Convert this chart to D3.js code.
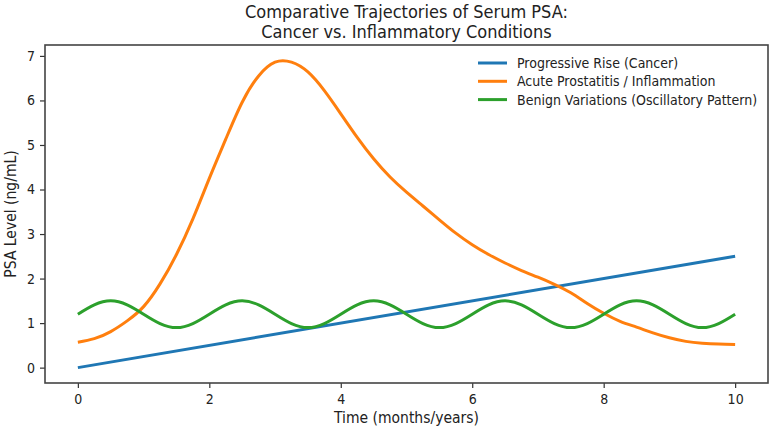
<!DOCTYPE html>
<html>
<head>
<meta charset="utf-8">
<script src="https://cdn.jsdelivr.net/npm/d3@7"></script>
<style>
  body { margin: 0; background: #fff; }
  text { font-family: "DejaVu Sans Condensed", "DejaVu Sans", sans-serif; fill: #222; }
</style>
</head>
<body>
<div id="chart"></div>
<script>
const W = 774, H = 431;
const MARGIN = { TOP: 45, RIGHT: 6, BOTTOM: 48, LEFT: 45 };
const WIDTH = W - MARGIN.LEFT - MARGIN.RIGHT;
const HEIGHT = H - MARGIN.TOP - MARGIN.BOTTOM;

const xTicks = [0, 2, 4, 6, 8, 10];
const yTicks = [0, 1, 2, 3, 4, 5, 6, 7];

const cancerX = [0, 10];
const cancerY = [0, 2.5];

const inflamX = [0, 0.25, 0.5, 0.75, 1, 1.25, 1.5, 1.75, 2, 2.25, 2.5, 2.75, 3, 3.25, 3.5, 3.75, 4,
  4.25, 4.5, 4.75, 5, 5.25, 5.5, 5.75, 6, 6.25, 6.5, 6.75, 7, 7.25, 7.5, 7.75, 8, 8.25, 8.5, 8.75, 9,
  9.25, 9.5, 9.75, 10];
const inflamY = [0.57, 0.65, 0.81, 1.05, 1.37, 1.88, 2.54, 3.34, 4.25, 5.13, 5.96, 6.55, 6.86, 6.86,
  6.64, 6.22, 5.7, 5.17, 4.69, 4.28, 3.94, 3.63, 3.32, 3.02, 2.76, 2.54, 2.35, 2.18, 2.03, 1.87, 1.68,
  1.44, 1.22, 1.04, 0.91, 0.78, 0.67, 0.59, 0.55, 0.53, 0.52];

const benignX = d3.range(0, 10.001, 0.25);
const benignY = [1.2, 1.41, 1.5, 1.41, 1.2, 0.99, 0.9, 0.99, 1.2, 1.41, 1.5, 1.41, 1.2, 0.99, 0.9, 0.99,
  1.2, 1.41, 1.5, 1.41, 1.2, 0.99, 0.9, 0.99, 1.2, 1.41, 1.5, 1.41, 1.2, 0.99, 0.9, 0.99,
  1.2, 1.41, 1.5, 1.41, 1.2, 0.99, 0.9, 0.99, 1.2];

const seriesNames = ["Progressive Rise (Cancer)", "Acute Prostatitis / Inflammation", "Benign Variations (Oscillatory Pattern)"];
const colors = ["#1f77b4", "#ff7f0e", "#2ca02c"];

const zip = (xs, ys) => xs.map((x, i) => [x, ys[i]]);
const series = [
  { name: seriesNames[0], pts: zip(cancerX, cancerY), curve: d3.curveLinear },
  { name: seriesNames[1], pts: zip(inflamX, inflamY), curve: d3.curveNatural },
  { name: seriesNames[2], pts: zip(benignX, benignY), curve: d3.curveNatural }
];

const svg = d3.select("#chart").append("svg")
  .attr("width", W).attr("height", H);

const g = svg.append("g")
  .attr("transform", `translate(${MARGIN.LEFT}, ${MARGIN.TOP})`);

const x = d3.scaleLinear().domain([-0.5, 10.5]).range([0, WIDTH]);
const y = d3.scaleLinear().domain([-0.345, 7.245]).range([HEIGHT, 0]);

const xAxis = d3.axisBottom(x).tickValues(xTicks).tickSize(5).tickPadding(6);
const yAxis = d3.axisLeft(y).tickValues(yTicks).tickSize(5).tickPadding(5);

const xg = g.append("g").attr("transform", `translate(0, ${HEIGHT})`).call(xAxis);
const yg = g.append("g").call(yAxis);
[xg, yg].forEach(a => {
  a.select(".domain").remove();
  a.selectAll(".tick line").attr("stroke", "#333").attr("stroke-width", 1.2);
  a.selectAll(".tick text").style("font-size", "14px").attr("fill", "#222");
});

const line = d3.line().x(d => x(d[0])).y(d => y(d[1]));

series.forEach((s, i) => {
  g.append("path")
    .attr("d", line.curve(s.curve)(s.pts))
    .attr("fill", "none")
    .attr("stroke", colors[i])
    .attr("stroke-width", 3)
    .attr("stroke-linejoin", "round");
});

g.append("rect")
  .attr("width", WIDTH).attr("height", HEIGHT)
  .attr("fill", "none").attr("stroke", "#444").attr("stroke-width", 1.6);

// legend
const legend = g.append("g").attr("transform", `translate(${WIDTH - 290}, 18)`);
seriesNames.forEach((n, i) => {
  const row = legend.append("g").attr("transform", `translate(0, ${i * 18.3})`);
  row.append("line").attr("x1", 0).attr("x2", 29)
    .attr("stroke", colors[i]).attr("stroke-width", 3);
  row.append("text").attr("x", 39).attr("y", 0).attr("dy", "0.35em")
    .style("font-size", "14px").text(n);
});

// titles
svg.append("text")
  .attr("x", MARGIN.LEFT + WIDTH / 2).attr("y", 18)
  .attr("text-anchor", "middle").style("font-size", "18px")
  .text("Comparative Trajectories of Serum PSA:");
svg.append("text")
  .attr("x", MARGIN.LEFT + WIDTH / 2).attr("y", 38)
  .attr("text-anchor", "middle").style("font-size", "18px")
  .text("Cancer vs. Inflammatory Conditions");

svg.append("text")
  .attr("x", MARGIN.LEFT + WIDTH / 2).attr("y", 423)
  .attr("text-anchor", "middle").style("font-size", "15.5px")
  .text("Time (months/years)");
svg.append("text")
  .attr("transform", `translate(16, ${MARGIN.TOP + HEIGHT / 2}) rotate(-90)`)
  .attr("text-anchor", "middle").style("font-size", "15.5px")
  .text("PSA Level (ng/mL)");
</script>
</body>
</html>
